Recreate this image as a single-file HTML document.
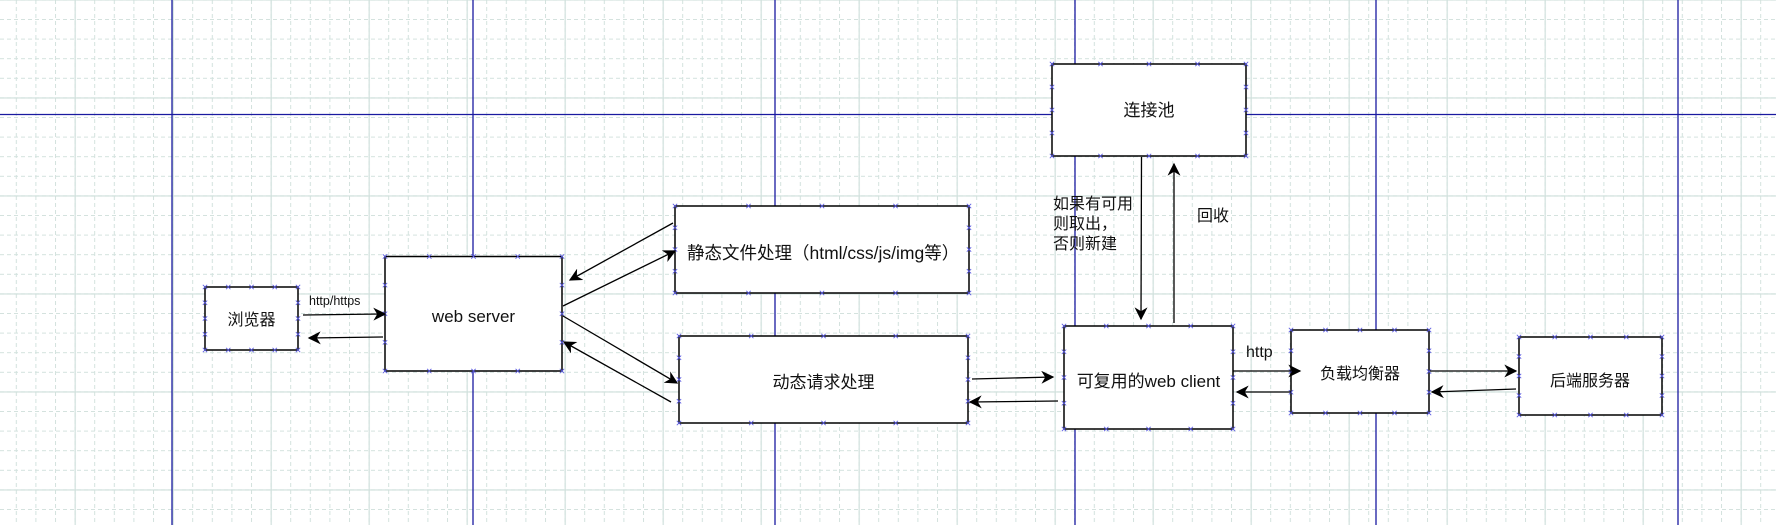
<!DOCTYPE html>
<html><head><meta charset="utf-8"><style>
html,body{margin:0;padding:0;background:#fff;}
svg{display:block;}
text{font-family:"Liberation Sans","Noto Sans CJK SC",sans-serif;fill:#111;}
</style></head><body>
<svg id="s" width="1776" height="525" viewBox="0 0 1776 525" xmlns="http://www.w3.org/2000/svg">
<defs>
<pattern id="minV" x="74.6" y="0" width="19.6" height="525" patternUnits="userSpaceOnUse">
<line x1="0.5" y1="0" x2="0.5" y2="525" stroke="#d3e2de" stroke-width="1" stroke-dasharray="4,3"/>
</pattern>
<pattern id="minH" x="0" y="97.4" width="1776" height="19.6" patternUnits="userSpaceOnUse">
<line x1="0" y1="0.5" x2="1776" y2="0.5" stroke="#d3e2de" stroke-width="1" stroke-dasharray="4,3"/>
</pattern>
<pattern id="majV" x="74.6" y="0" width="98" height="525" patternUnits="userSpaceOnUse">
<line x1="0.5" y1="0" x2="0.5" y2="525" stroke="#cfdfdb" stroke-width="1.3"/>
</pattern>
<pattern id="majH" x="0" y="97.4" width="1776" height="98" patternUnits="userSpaceOnUse">
<line x1="0" y1="0.5" x2="1776" y2="0.5" stroke="#cfdfdb" stroke-width="1.3"/>
</pattern>
<marker id="ah" viewBox="0 0 10 10" refX="9" refY="5" markerWidth="13" markerHeight="13" orient="auto" markerUnits="userSpaceOnUse">
<path d="M0,0 L10,5 L0,10 L3,5 z" fill="#000"/>
</marker>
</defs>
<rect width="1776" height="525" fill="url(#minV)"/>
<rect width="1776" height="525" fill="url(#minH)"/>
<rect width="1776" height="525" fill="url(#majV)"/>
<rect width="1776" height="525" fill="url(#majH)"/>
<g stroke="#1a1aa0" stroke-width="1.3">
<line x1="172" y1="0" x2="172" y2="525"/>
<line x1="473" y1="0" x2="473" y2="525"/>
<line x1="775" y1="0" x2="775" y2="525"/>
<line x1="1075" y1="0" x2="1075" y2="525"/>
<line x1="1376" y1="0" x2="1376" y2="525"/>
<line x1="1678" y1="0" x2="1678" y2="525"/>
<line x1="0" y1="114.5" x2="1776" y2="114.5"/>
</g>
<g id="boxes" fill="#fff" stroke="#000" stroke-width="1.5">
<rect x="205" y="287" width="93" height="63"/>
<rect x="385" y="256.5" width="177" height="114.5"/>
<rect x="675" y="206" width="294" height="87"/>
<rect x="679" y="336" width="289" height="87"/>
<rect x="1052" y="64" width="194" height="92"/>
<rect x="1064" y="326" width="169" height="103"/>
<rect x="1291" y="330" width="138" height="83"/>
<rect x="1519" y="337" width="143" height="78"/>
</g>
<g id="mk" stroke="#5a5ae0" stroke-width="0.8"></g>
<g stroke="#000" stroke-width="1.3" fill="none" marker-end="url(#ah)">
<line x1="303" y1="315" x2="385" y2="314"/>
<line x1="383" y1="337" x2="309" y2="338"/>
<line x1="563" y1="306" x2="675" y2="251"/>
<line x1="673" y1="223" x2="570" y2="280"/>
<line x1="563" y1="316" x2="677" y2="383"/>
<line x1="671" y1="402" x2="564" y2="342"/>
<line x1="972" y1="379" x2="1053" y2="377"/>
<line x1="1058" y1="401" x2="970" y2="402"/>
<line x1="1141.5" y1="157" x2="1141" y2="319"/>
<line x1="1174" y1="323" x2="1174" y2="164"/>
<line x1="1233" y1="371" x2="1300" y2="371"/>
<line x1="1291" y1="392" x2="1237" y2="392"/>
<line x1="1430" y1="371" x2="1516" y2="371"/>
<line x1="1516" y1="389" x2="1432" y2="392"/>
</g>
<text x="251.5" y="325" font-size="16" text-anchor="middle">浏览器</text>
<text x="309" y="305" font-size="12.5">http/https</text>
<text x="473.5" y="322" font-size="17" text-anchor="middle">web server</text>
<text x="687" y="259" font-size="17.5">静态文件处理（html/css/js/img等）</text>
<text x="823.5" y="388" font-size="17" text-anchor="middle">动态请求处理</text>
<text x="1149" y="116" font-size="17" text-anchor="middle">连接池</text>
<text x="1053" y="209" font-size="16">如果有可用</text>
<text x="1053" y="229" font-size="16">则取出，</text>
<text x="1053" y="249" font-size="16">否则新建</text>
<text x="1197" y="221" font-size="16">回收</text>
<text x="1148.5" y="387" font-size="17" text-anchor="middle">可复用的web client</text>
<text x="1246" y="357" font-size="16">http</text>
<text x="1360" y="379" font-size="16" text-anchor="middle">负载均衡器</text>
<text x="1590" y="386" font-size="16" text-anchor="middle">后端服务器</text>
</svg>
<script>
(function(){
var g=document.getElementById('mk');var ns='http://www.w3.org/2000/svg';
var rs=document.querySelectorAll('#boxes rect');
function x(cx,cy){var d=2.2;[[cx-d,cy-d,cx+d,cy+d],[cx-d,cy+d,cx+d,cy-d]].forEach(function(a){var l=document.createElementNS(ns,'line');l.setAttribute('x1',a[0]);l.setAttribute('y1',a[1]);l.setAttribute('x2',a[2]);l.setAttribute('y2',a[3]);g.appendChild(l);});}
rs.forEach(function(r){var X=+r.getAttribute('x'),Y=+r.getAttribute('y'),W=+r.getAttribute('width'),H=+r.getAttribute('height');
for(var i=0;i<=4;i++){x(X+W*i/4,Y);x(X+W*i/4,Y+H);}
for(var j=1;j<4;j++){x(X,Y+H*j/4);x(X+W,Y+H*j/4);}
});
})();
</script>
</body></html>
